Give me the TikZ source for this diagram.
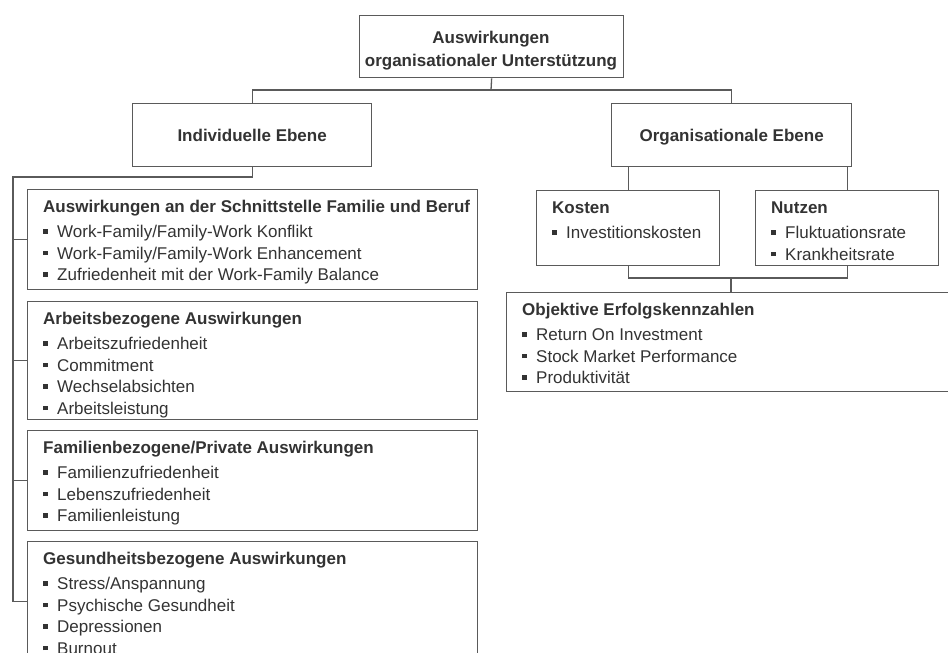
\documentclass[tikz,border=0pt]{standalone}
\usepackage{fontspec}
\setmainfont{Liberation Sans}
\definecolor{ink}{HTML}{333333}
\definecolor{rule}{HTML}{5A5A5A}

% font used throughout the chart
\newcommand\fs{\fontsize{17pt}{21.5pt}\selectfont}
% small square bullet in front of list entries
\newcommand\bul{\makebox[14pt][l]{\raisebox{3.9pt}{\rule{4.3pt}{4.3pt}}}}

\tikzset{
  box/.style={draw=rule, line width=1.3pt, fill=white, inner sep=0pt, anchor=north west},
  link/.style={draw=rule, line width=1.3pt},
  head/.style={anchor=base west, inner sep=0pt, text=ink, font=\fs\bfseries},
  entry/.style={anchor=base west, inner sep=0pt, text=ink, font=\fs},
  centred/.style={anchor=base, inner sep=0pt, text=ink, font=\fs\bfseries},
}

% panel: name, x, y, width, height, heading, list of entries
\newcommand\panel[7]{%
  \node[box, minimum width=#4pt, minimum height=#5pt] (#1) at (#2,#3) {};
  \node[head] (#1-h) at ([xshift=16pt,yshift=-23pt]#1.north west) {#6};
  \foreach \t [count=\k] in {#7} {
    \node[entry] (#1-\k) at ([xshift=16pt,yshift={-48.5pt-(\k-1)*21.5pt}]#1.north west) {\bul\t};
  }%
}

\begin{document}
\begin{tikzpicture}[x=1pt, y=-1pt]
\useasboundingbox (0,0) rectangle (948,653);
\clip (0,0) rectangle (948,653);

% root
\node[box, minimum width=264pt, minimum height=62pt] (root) at (359,15) {};
\node[centred] (root-1) at (491,43) {Auswirkungen};
\node[centred] (root-2) at (491,66) {organisationaler Unterstützung};

% two levels
\node[box, minimum width=239pt, minimum height=63pt] (ind) at (132,103) {};
\node[centred] (ind-t) at (ind.center) [yshift=-6pt] {Individuelle Ebene};
\node[box, minimum width=240pt, minimum height=63pt] (org) at (611,103) {};
\node[centred] (org-t) at (org.center) [yshift=-6pt] {Organisationale Ebene};

% individual level
\panel{p1}{27}{189}{450}{100}{Auswirkungen an der Schnittstelle Familie und Beruf}
  {Work-Family/Family-Work Konflikt, Work-Family/Family-Work Enhancement, Zufriedenheit mit der Work-Family Balance}
\panel{p2}{27}{301}{450}{118}{Arbeitsbezogene Auswirkungen}
  {Arbeitszufriedenheit, Commitment, Wechselabsichten, Arbeitsleistung}
\panel{p3}{27}{430}{450}{100}{Familienbezogene/Private Auswirkungen}
  {Familienzufriedenheit, Lebenszufriedenheit, Familienleistung}
\panel{p4}{27}{541}{450}{120}{Gesundheitsbezogene Auswirkungen}
  {Stress/Anspannung, Psychische Gesundheit, Depressionen, Burnout}

% organisational level
\panel{kost}{536}{190}{183}{75}{Kosten}{Investitionskosten}
\panel{nutz}{755}{190}{183}{75}{Nutzen}{Fluktuationsrate, Krankheitsrate}
\panel{obj}{506}{292}{445}{99}{Objektive Erfolgskennzahlen}
  {Return On Investment, Stock Market Performance, Produktivität}

% connectors
\coordinate (bus) at (491,90);
\coordinate (spine) at (13,177);
\coordinate (join) at (731,278);

\draw[link] (root.south) -- (bus);
\draw[link] (ind.north) |- (bus) -| (org.north);

\draw[link] (ind.south) |- (spine) |- (p4.west);
\draw[link] (spine |- p1.west) -- (p1.west);
\draw[link] (spine |- p2.west) -- (p2.west);
\draw[link] (spine |- p3.west) -- (p3.west);

\draw[link] (org.south -| kost.north) -- (kost.north);
\draw[link] (org.south -| nutz.north) -- (nutz.north);
\draw[link] (kost.south) |- (join) -| (nutz.south);
\draw[link] (join) -- (join |- obj.north);
\end{tikzpicture}
\end{document}
